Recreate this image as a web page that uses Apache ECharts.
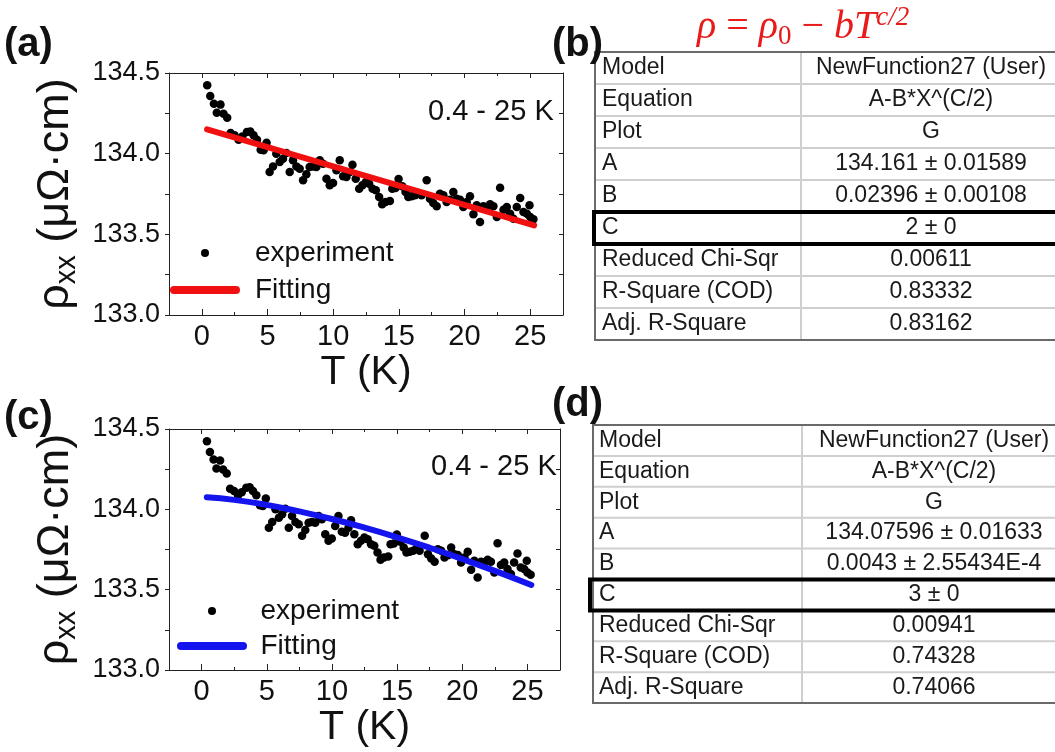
<!DOCTYPE html>
<html>
<head>
<meta charset="utf-8">
<script src="https://cdn.jsdelivr.net/npm/echarts@6/dist/echarts.min.js"></script>
<style>html,body{margin:0;padding:0;background:#fff}#chart{width:1055px;height:752px}</style>
</head>
<body>
<div id="chart"></div>
<script>
// ---- data ----
const expT = [0.41,0.64,0.92,1.14,1.42,1.65,1.93,2.19,2.49,2.80,3.08,3.43,3.69,3.94,4.20,4.48,4.70,4.93,5.16,5.42,5.67,5.93,6.18,6.43,6.69,6.94,7.20,7.45,7.71,7.96,8.21,8.47,8.72,8.98,9.23,9.49,9.74,9.99,10.25,10.50,10.76,11.01,11.27,11.47,11.72,11.98,12.23,12.49,12.74,13.00,13.25,13.50,13.73,13.99,14.32,14.50,14.75,14.98,15.26,15.51,15.72,15.97,16.23,16.48,16.73,17.12,17.37,17.62,17.88,18.13,18.39,18.64,18.90,19.15,19.40,19.66,19.91,20.17,20.42,20.68,20.93,21.18,21.44,21.69,21.95,22.20,22.46,22.71,22.97,23.22,23.47,23.73,23.98,24.24,24.49,24.75,24.95,25.00,25.25];
const expRho = [134.424,134.357,134.310,134.254,134.304,134.248,134.223,134.128,134.114,134.087,134.107,134.134,134.138,134.114,134.087,134.025,134.021,134.068,133.886,133.921,134.000,133.948,133.969,134.004,133.886,133.959,133.921,133.907,133.835,133.872,133.917,133.921,133.917,133.959,133.938,133.845,133.804,133.818,133.897,133.959,133.860,133.855,133.886,133.932,133.845,133.783,133.804,133.824,133.814,133.783,133.773,133.731,133.686,133.700,133.707,133.783,133.787,133.843,133.798,133.762,133.731,133.736,133.742,133.756,133.742,133.835,133.721,133.694,133.674,133.752,133.742,133.700,133.715,133.762,133.721,133.715,133.669,133.700,133.736,133.624,133.680,133.576,133.674,133.669,133.686,133.674,133.607,133.789,133.653,133.669,133.628,133.597,133.669,133.725,133.638,133.628,133.680,133.607,133.593];
const fitAT = [0.4, 5, 10, 15, 20, 25.3];
const fitARho = [134.151, 134.041, 133.921, 133.802, 133.682, 133.555];
const fitCT = [0.4, 2.5, 5, 7.5, 10, 12.5, 15, 17.5, 20, 22.5, 25.3];
const fitCRho = [134.075, 134.059, 134.028, 133.987, 133.940, 133.886, 133.826, 133.761, 133.691, 133.617, 133.529];
const xMajorTicks = [0, 5, 10, 15, 20, 25];
const xMinorTicks = [-2.5, 2.5, 7.5, 12.5, 17.5, 22.5, 27.5];
const tableLabels = ['Model','Equation','Plot','A','B','C','Reduced Chi-Sqr','R-Square (COD)','Adj. R-Square'];
const tableBValues = ['NewFunction27 (User)','A-B*X^(C/2)','G','134.161 ± 0.01589','0.02396 ± 0.00108','2 ± 0','0.00611','0.83332','0.83162'];
const tableDValues = ['NewFunction27 (User)','A-B*X^(C/2)','G','134.07596 ± 0.01633','0.0043 ± 2.55434E-4','3 ± 0','0.00941','0.74328','0.74066'];
const panelLabels = ['(a)','(b)','(c)','(d)'];
const rangeText = '0.4 - 25 K';

// ---- build ----
const FONT = 'Liberation Sans, Arial, sans-serif';
const INK = '#111';
const zip = (a, b) => a.map((v, i) => [v, b[i]]);
const lineSt = {color: '#222', width: 1};

function xAxesFor(gi, nameGap) {
  const base = {gridIndex: gi, type: 'value', min: -2.5, max: 27.5, splitLine: {show: false}};
  return [
    Object.assign({}, base, {position: 'bottom', axisLine: {show: true, onZero: false, lineStyle: lineSt},
      axisTick: {show: true, inside: true, length: 6, customValues: xMajorTicks, lineStyle: lineSt},
      axisLabel: {show: true, customValues: xMajorTicks, fontSize: 29, color: INK, fontFamily: FONT, margin: 7},
      name: 'T (K)', nameLocation: 'middle', nameGap: nameGap,
      nameTextStyle: {fontSize: 41, color: INK, fontFamily: FONT}}),
    Object.assign({}, base, {position: 'bottom', axisLine: {show: false, onZero: false},
      axisTick: {show: true, inside: true, length: 3, customValues: xMinorTicks, lineStyle: lineSt},
      axisLabel: {show: false}}),
    Object.assign({}, base, {position: 'top', axisLine: {show: true, onZero: false, lineStyle: lineSt},
      axisTick: {show: true, inside: true, length: 5, customValues: xMajorTicks, lineStyle: lineSt},
      axisLabel: {show: false}}),
    Object.assign({}, base, {position: 'top', axisLine: {show: false, onZero: false},
      axisTick: {show: true, inside: true, length: 3, customValues: xMinorTicks, lineStyle: lineSt},
      axisLabel: {show: false}})
  ];
}
function yAxesFor(gi) {
  const base = {gridIndex: gi, type: 'value', min: 133, max: 134.5, interval: 0.5, splitLine: {show: false}};
  return [
    Object.assign({}, base, {position: 'left', axisLine: {show: true, onZero: false, lineStyle: lineSt},
      axisTick: {show: true, inside: false, length: 4, lineStyle: lineSt},
      minorTick: {show: true, splitNumber: 2, length: 4, lineStyle: lineSt},
      axisLabel: {formatter: v => v.toFixed(1), fontSize: 27, color: INK, fontFamily: FONT, margin: 9},
      name: '{r|ρ}{s|xx}{r| (μΩ·cm)}', nameLocation: 'middle', nameGap: 88,
      nameTextStyle: {color: INK, fontFamily: FONT, fontSize: 45,
        rich: {r: {fontSize: 45, lineHeight: 50, fontFamily: FONT, color: INK},
               s: {fontSize: 29, lineHeight: 30, verticalAlign: 'bottom', fontFamily: FONT, color: INK}}}}),
    Object.assign({}, base, {position: 'right', axisLine: {show: true, onZero: false, lineStyle: lineSt},
      axisTick: {show: true, inside: true, length: 4, lineStyle: lineSt},
      minorTick: {show: true, splitNumber: 2, length: 4, lineStyle: lineSt},
      axisLabel: {show: false}})
  ];
}

const pillIcon = 'path://M4,0L66,0A4,4,0,0,1,66,8L4,8A4,4,0,0,1,4,0Z';
function legendFor(left, top, w, gap, pad, fitName) {
  return {orient: 'vertical', left: left, top: top, padding: 0, itemWidth: w, itemHeight: 8, itemGap: gap,
    selectedMode: false,
    data: [{name: 'experiment', icon: 'circle'}, {name: fitName, icon: pillIcon}],
    formatter: n => n.indexOf('Fitting') === 0 ? 'Fitting' : n,
    textStyle: {fontSize: 28, lineHeight: 30, color: INK, fontFamily: FONT, padding: [0, 0, 0, pad]}};
}

function tableFor(x0, y0, colX, x1, rowH, values, textX, valCX, hiX) {
  const els = [];
  const n = tableLabels.length;
  const H = rowH * n;
  els.push({type: 'rect', shape: {x: x0, y: y0, width: x1 - x0, height: H}, style: {fill: '#fff', stroke: '#6a6a6a', lineWidth: 2}, z: 1});
  for (let i = 1; i < n; i++) {
    els.push({type: 'line', shape: {x1: x0 + 1, y1: y0 + i * rowH, x2: x1, y2: y0 + i * rowH}, style: {stroke: '#cfcfcf', lineWidth: 2}, z: 2});
  }
  els.push({type: 'line', shape: {x1: colX, y1: y0 + 1, x2: colX, y2: y0 + H - 1}, style: {stroke: '#cfcfcf', lineWidth: 2}, z: 2});
  for (let i = 0; i < n; i++) {
    const cy = y0 + (i + 0.5) * rowH;
    els.push({type: 'text', x: textX, y: cy, z: 3, style: {text: tableLabels[i], fontSize: 23, fontFamily: FONT, fill: '#1a1a1a', align: 'left', verticalAlign: 'middle'}});
    els.push({type: 'text', x: valCX, y: cy, z: 3, style: {text: values[i], fontSize: 23, fontFamily: FONT, fill: '#1a1a1a', align: 'center', verticalAlign: 'middle'}});
  }
  const hi = tableLabels.indexOf('C');
  els.push({type: 'rect', shape: {x: hiX, y: y0 + hi * rowH, width: x1 + 10 - hiX, height: rowH}, style: {fill: 'none', stroke: '#000', lineWidth: 4}, z: 4});
  return els;
}

const graphics = [];
const panelPos = [[4, 45], [552, 45], [4, 418], [552, 405]];
panelLabels.forEach((t, i) => graphics.push({type: 'text', x: panelPos[i][0], y: panelPos[i][1], z: 5,
  style: {text: t, fontSize: 40, fontWeight: 'bold', fontFamily: FONT, fill: '#111', align: 'left', verticalAlign: 'middle'}}));
graphics.push({type: 'text', x: 697, y: 27, z: 5, style: {
  text: '{i|ρ}{n| = }{i|ρ}{sub|0}{n| − }{i|bT}{sup|c/2}', align: 'left', verticalAlign: 'middle',
  rich: {
    i: {fontSize: 40, fontStyle: 'italic', fontFamily: 'Liberation Serif, serif', fill: '#e81a1a', lineHeight: 46},
    n: {fontSize: 40, fontFamily: 'Liberation Serif, serif', fill: '#e81a1a', lineHeight: 46},
    sub: {fontSize: 27, fontFamily: 'Liberation Serif, serif', fill: '#e81a1a', lineHeight: 24, verticalAlign: 'bottom'},
    sup: {fontSize: 27, fontStyle: 'italic', fontFamily: 'Liberation Serif, serif', fill: '#e81a1a', lineHeight: 24, verticalAlign: 'top'}
  }}});
tableFor(595, 52, 801, 1062, 32, tableBValues, 602, 931, 594).forEach(e => graphics.push(e));
tableFor(593, 425, 802, 1062, 30.9, tableDValues, 599, 934, 590).forEach(e => graphics.push(e));

const option = {
  animation: false,
  backgroundColor: '#fff',
  grid: [{left: 169, top: 73, width: 394, height: 242}, {left: 169, top: 429, width: 391, height: 241}],
  xAxis: xAxesFor(0, 37).concat(xAxesFor(1, 33)),
  yAxis: yAxesFor(0).concat(yAxesFor(1)),
  legend: [legendFor(170, 238, 70, 7, 10, 'Fitting (a)'), legendFor(177, 596, 71, 5, 8, 'Fitting (c)')],
  title: [
    {text: rangeText, left: 428, top: 95, padding: 0, textStyle: {fontSize: 29, fontWeight: 'normal', color: INK, fontFamily: FONT, lineHeight: 34}},
    {text: rangeText, left: 431, top: 450, padding: 0, textStyle: {fontSize: 29, fontWeight: 'normal', color: INK, fontFamily: FONT, lineHeight: 34}}
  ],
  graphic: graphics,
  series: [
    {name: 'experiment', type: 'scatter', xAxisIndex: 0, yAxisIndex: 0, data: zip(expT, expRho), symbolSize: 8.5, itemStyle: {color: '#000', opacity: 1}, z: 2},
    {name: 'Fitting (a)', type: 'line', xAxisIndex: 0, yAxisIndex: 0, data: zip(fitAT, fitARho), showSymbol: false, symbol: 'none', color: '#f01010', lineStyle: {color: '#f01010', width: 6, cap: 'round'}, z: 3},
    {name: 'experiment', type: 'scatter', xAxisIndex: 4, yAxisIndex: 2, data: zip(expT, expRho), symbolSize: 8.5, itemStyle: {color: '#000', opacity: 1}, z: 2},
    {name: 'Fitting (c)', type: 'line', xAxisIndex: 4, yAxisIndex: 2, data: zip(fitCT, fitCRho), smooth: true, showSymbol: false, symbol: 'none', color: '#1414ee', lineStyle: {color: '#1414ee', width: 6, cap: 'round'}, z: 3}
  ]
};
const chart = echarts.init(document.getElementById('chart'), null, {renderer: 'canvas'});
chart.setOption(option);
</script>
</body>
</html>
